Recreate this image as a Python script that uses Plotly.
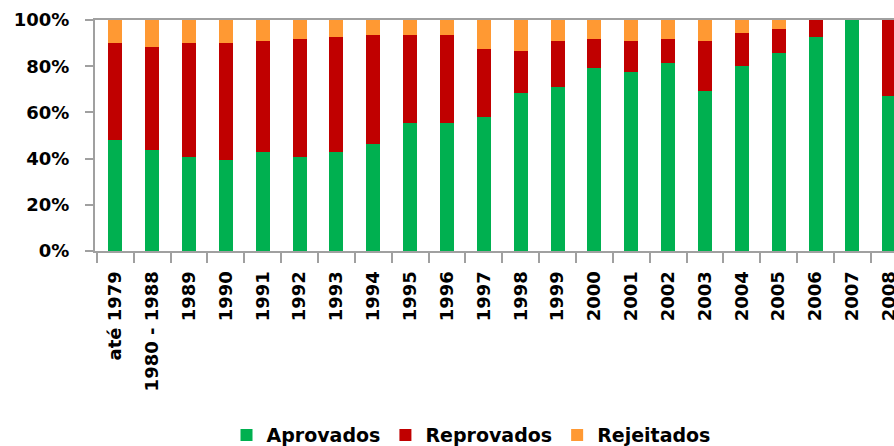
import plotly.graph_objects as go

categories = ["até 1979", "1980 - 1988", "1989", "1990", "1991", "1992", "1993", "1994",
              "1995", "1996", "1997", "1998", "1999", "2000", "2001", "2002", "2003",
              "2004", "2005", "2006", "2007", "2008"]

aprovados = [48.2, 43.9, 40.6, 39.6, 43.0, 40.6, 43.0, 46.5, 55.3, 55.3, 58.1, 68.3,
             70.9, 79.4, 77.7, 81.6, 69.2, 79.9, 85.9, 92.8, 100.0, 66.9]
reprovados = [42.0, 44.6, 49.6, 50.6, 48.1, 51.3, 49.8, 47.2, 38.4, 38.4, 29.5, 18.3,
              20.2, 12.5, 13.4, 10.3, 21.9, 14.6, 10.4, 7.2, 0.0, 33.1]
rejeitados = [9.8, 11.5, 9.8, 9.8, 8.9, 8.1, 7.2, 6.3, 6.3, 6.3, 12.4, 13.4,
              8.9, 8.1, 8.9, 8.1, 8.9, 5.5, 3.7, 0.0, 0.0, 0.0]

series = [("Aprovados", aprovados, "#00B050"),
          ("Reprovados", reprovados, "#C00000"),
          ("Rejeitados", rejeitados, "#FF9933")]

y_ticks = [0, 20, 40, 60, 80, 100]
y_tick_labels = ["0%", "20%", "40%", "60%", "80%", "100%"]
grid_ticks = [40, 80]

fig = go.Figure()
for name, vals, color in series:
    fig.add_trace(go.Bar(x=categories, y=vals, name=name,
                         marker=dict(color=color, line=dict(width=0))))

fig.update_layout(
    width=894, height=446,
    barmode="stack", bargap=0.62,
    plot_bgcolor="white", paper_bgcolor="white",
    margin=dict(l=95, r=0, t=20, b=195, autoexpand=False),
    font=dict(family="DejaVu Sans", size=18, color="black", weight="bold"),
    showlegend=True,
    legend=dict(orientation="h", x=0.4706, xanchor="center", y=-0.797, yanchor="middle",
                font=dict(size=19), traceorder="normal"),
    xaxis=dict(type="category", range=[-0.55, 21.13], tickangle=-90, automargin=False,
               showline=True, linecolor="#A0A0A0", linewidth=2, mirror=True,
               ticks="outside", tickson="boundaries", ticklen=10, tickcolor="#A0A0A0",
               tickwidth=2, showgrid=False, ticklabelstandoff=11),
    yaxis=dict(range=[0, 100], tickmode="array", tickvals=y_ticks, ticktext=y_tick_labels,
               automargin=False,
               showline=True, linecolor="#A0A0A0", linewidth=2,
               ticks="outside", ticklen=8, tickcolor="#A0A0A0", tickwidth=2,
               showgrid=False, zeroline=False, ticklabelstandoff=12),
    yaxis2=dict(range=[0, 100], overlaying="y", tickvals=grid_ticks, automargin=False,
                showticklabels=False, showgrid=True, gridcolor="#A0A0A0", gridwidth=1.5,
                zeroline=False, showline=False, ticks=""),
)

fig.write_html("out.html", config={"displayModeBar": False},
               post_script="document.body.style.margin='0';document.body.style.overflow='hidden';")
